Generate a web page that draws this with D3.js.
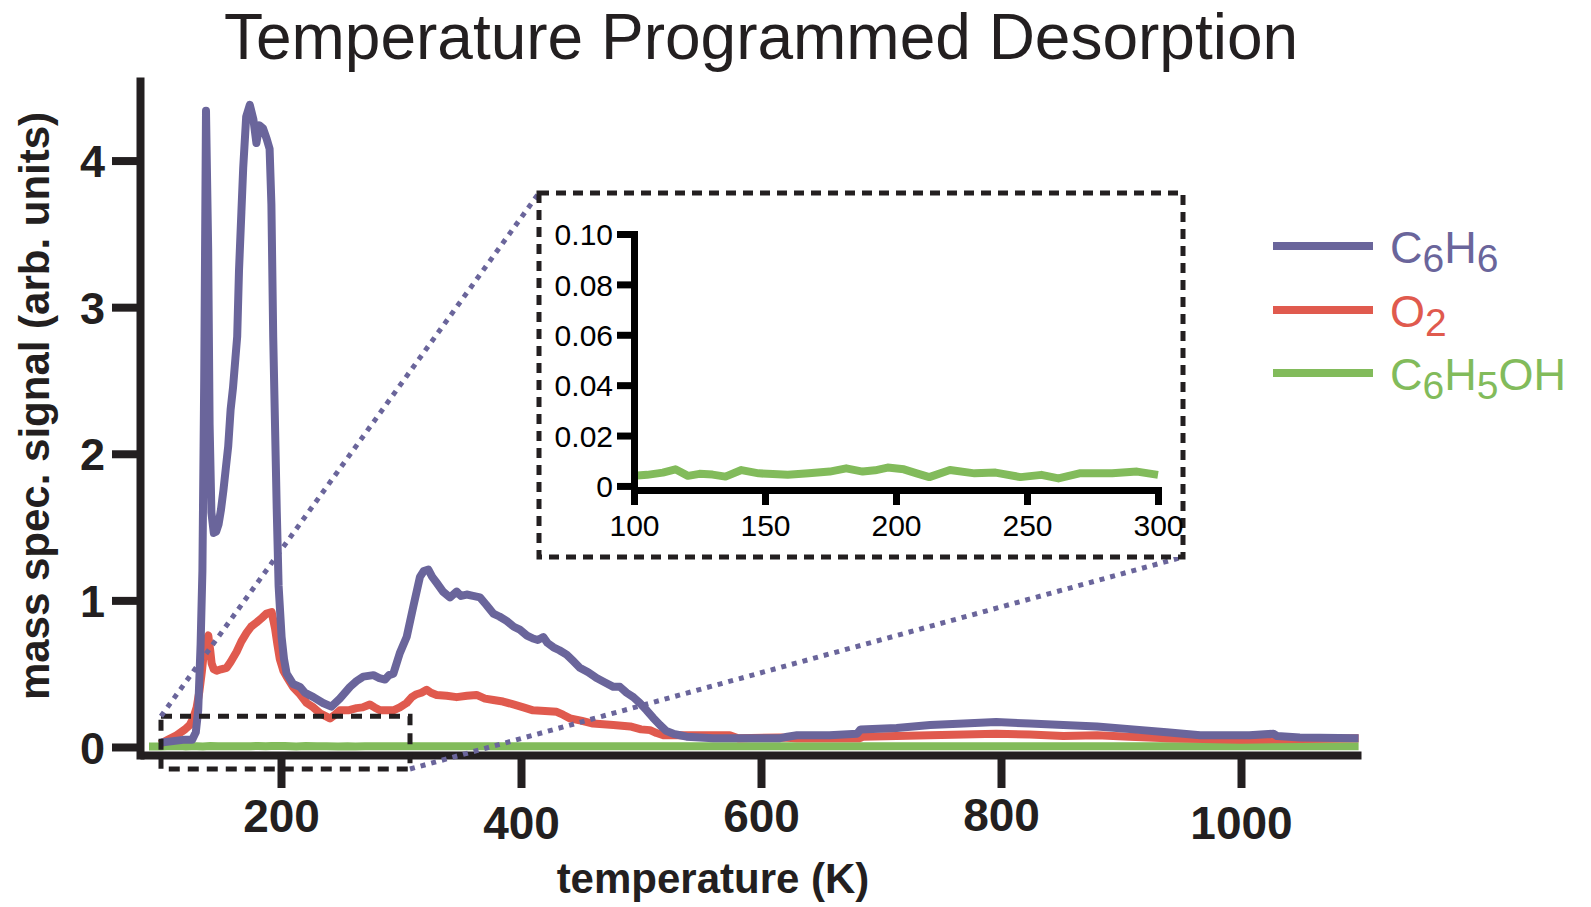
<!DOCTYPE html>
<html><head><meta charset="utf-8">
<script src="https://cdn.jsdelivr.net/npm/d3@7"></script>
<style>
body{margin:0;background:#fff}
svg{display:block}
text{font-family:"Liberation Sans",Arial,Helvetica,sans-serif}
</style>
</head><body>
<svg id="c" width="1591" height="907"></svg>
<script>
// ---------------- data ----------------
const benzeneT = [100,110,120,126,129,131,133,134.5,136,137.5,139.3,140.5,142,144,146,148,150,152,154,156,158,160,162,163.5,165,167,168.5,171,174,177,179.5,182,185,188,190.5,192,193.5,195,196.5,198,200.5,202.5,204.7,210,215.8,220,227,235,242,249,257.5,263,268.6,277,282,286.7,290,293.6,299,304.7,310.3,315.8,319,322.8,326,329.7,335,340.8,346.4,350,354.7,360,365.8,371,376.9,382,388,394,399,405,410,414,418.6,422,427,432,438,443,449,456,463,470,477,482.5,488,493.6,499,504.7,510,515.8,521,527,532.5,538,560,588,616,622,630,657,680,683,713,741,769,796,824,852,880,910,938,966,1007,1027,1030,1049,1098];
const benzeneSignal = [0.03,0.04,0.05,0.05,0.1,0.25,0.7,1.2,2.5,4.34,3.4,2.2,1.6,1.46,1.47,1.52,1.62,1.75,1.9,2.05,2.3,2.45,2.65,2.8,3.25,3.65,3.95,4.3,4.38,4.28,4.12,4.24,4.22,4.15,4.08,3.7,2.8,2.2,1.6,1.1,0.75,0.6,0.5,0.43,0.41,0.37,0.34,0.3,0.275,0.33,0.41,0.45,0.48,0.49,0.47,0.46,0.49,0.5,0.64,0.75,0.96,1.16,1.2,1.21,1.16,1.12,1.06,1.02,1.06,1.03,1.04,1.03,1.02,0.97,0.91,0.89,0.86,0.82,0.8,0.76,0.74,0.73,0.75,0.71,0.68,0.66,0.63,0.59,0.54,0.51,0.47,0.44,0.41,0.41,0.37,0.34,0.3,0.25,0.2,0.15,0.11,0.09,0.08,0.07,0.06,0.06,0.06,0.07,0.08,0.08,0.09,0.12,0.13,0.15,0.16,0.17,0.16,0.15,0.14,0.12,0.1,0.08,0.08,0.09,0.075,0.065,0.06];

const oxygenT = [99,106,113,120,124,127,129.7,132,134,136.7,139.4,141,142.2,144,146.4,150,154.7,158,163,167,171.4,175,179.7,184,188,192.2,195,197,199,202,204.7,210,215.8,221.4,227,232.5,240.8,245,249,256,263,268,274,278,282.5,293.6,299,304.7,309,313,317,321.4,325,329.7,338,346.4,355,363,370,377,385,393.6,402,410,420,429.7,435,440.8,450,460,477,491,500,507.5,513,518.6,546,574,581,616,630,682,685,741,769,796,824,852,880,907,938,1000,1050,1098];
const oxygenSignal = [0.02,0.05,0.08,0.12,0.15,0.2,0.27,0.38,0.51,0.72,0.76,0.66,0.57,0.53,0.52,0.53,0.54,0.58,0.65,0.72,0.78,0.82,0.85,0.88,0.91,0.92,0.81,0.7,0.6,0.52,0.48,0.41,0.36,0.3,0.27,0.23,0.195,0.22,0.25,0.25,0.265,0.27,0.29,0.27,0.25,0.25,0.27,0.3,0.34,0.36,0.37,0.39,0.37,0.355,0.35,0.34,0.35,0.355,0.33,0.32,0.31,0.29,0.27,0.25,0.245,0.24,0.22,0.195,0.18,0.16,0.15,0.14,0.12,0.115,0.095,0.08,0.08,0.08,0.06,0.065,0.06,0.06,0.07,0.08,0.085,0.09,0.085,0.075,0.08,0.07,0.06,0.05,0.055,0.06];

const phenolT = [90,100,105,111,115.8,120.6,125,130,134.9,141,147.6,153,158.7,166.7,174.7,181,187.3,192,196.8,203,207.9,212.7,220.6,230,238,247.5,255.5,262,270,282.5,292,300,350,400,500,600,700,800,900,1000,1098];
const phenolSignal = [0.004,0.004,0.0044,0.0053,0.0066,0.004,0.0048,0.0045,0.0037,0.0063,0.005,0.0047,0.0044,0.005,0.0057,0.007,0.0057,0.0062,0.0073,0.0066,0.005,0.0035,0.0063,0.005,0.0053,0.0035,0.0044,0.003,0.005,0.005,0.0057,0.0044,0.005,0.005,0.005,0.005,0.005,0.005,0.005,0.005,0.005];

const mainXTicks = [200,400,600,800,1000];
const mainYTicks = [0,1,2,3,4];
const insetXTicks = [100,150,200,250,300];
const insetYTicks = [0,0.02,0.04,0.06,0.08,0.10];
const seriesNames = [["C","6","H","6"],["O","2"],["C","6","H","5","OH"]];

// ---------------- drawing ----------------
const svg = d3.select('#c');
const ink = '#231f20';
const FONT = '"Liberation Sans", Arial, Helvetica, sans-serif';
const cBenz = '#6a659b', cOxy = '#e05a4e', cPhen = '#82bb5b';
const LW = 8;

svg.append('rect').attr('width',1591).attr('height',907).attr('fill','#fff');

const x = d3.scaleLinear().domain([82.5,1100]).range([140,1361]);
const y = d3.scaleLinear().domain([-0.082,4.57]).range([759,77]);

const zip = (a,b) => a.map((t,i)=>[t,b[i]]);
const line = d3.line().x(d=>x(d[0])).y(d=>y(d[1]));

svg.append('path').datum(zip(phenolT,phenolSignal)).attr('d',line)
  .attr('fill','none').attr('stroke',cPhen).attr('stroke-width',LW);
svg.append('path').datum(zip(oxygenT,oxygenSignal)).attr('d',line)
  .attr('fill','none').attr('stroke',cOxy).attr('stroke-width',LW).attr('stroke-linejoin','round');
svg.append('path').datum(zip(benzeneT,benzeneSignal)).attr('d',line)
  .attr('fill','none').attr('stroke',cBenz).attr('stroke-width',LW).attr('stroke-linejoin','round');

// axes
const gx = svg.append('g').attr('transform','translate(0,755)')
  .call(d3.axisBottom(x).tickValues(mainXTicks).tickSizeInner(33).tickSizeOuter(0).tickFormat(d3.format('d')));
gx.attr('font-family',FONT).attr('font-size',46).attr('font-weight','bold');
gx.select('.domain').attr('stroke',ink).attr('stroke-width',8);
gx.selectAll('.tick line').attr('stroke',ink).attr('stroke-width',8);
const labelShift = {200:-2,400:5,600:-2,800:-3,1000:5};
gx.selectAll('.tick text').attr('fill',ink).attr('dy',0).attr('y',d=>79+(labelShift[d]||0));

const gy = svg.append('g').attr('transform','translate(140,0)')
  .call(d3.axisLeft(y).tickValues(mainYTicks).tickSizeInner(28).tickPadding(7).tickSizeOuter(0).tickFormat(d3.format('d')));
gy.attr('font-family',FONT).attr('font-size',45).attr('font-weight','bold');
gy.select('.domain').attr('stroke',ink).attr('stroke-width',8);
gy.selectAll('.tick line').attr('stroke',ink).attr('stroke-width',8);
gy.selectAll('.tick text').attr('fill',ink).attr('dy','0.36em');

// titles
svg.append('text').attr('x',761).attr('y',59).attr('text-anchor','middle')
  .attr('font-size',64).attr('fill',ink).text('Temperature Programmed Desorption');
svg.append('text').attr('x',713).attr('y',893).attr('text-anchor','middle')
  .attr('font-size',42).attr('font-weight','bold').attr('fill',ink).text('temperature (K)');
svg.append('text').attr('transform','translate(49,406) rotate(-90)').attr('text-anchor','middle')
  .attr('font-size',42).attr('font-weight','bold').attr('fill',ink).text('mass spec. signal (arb. units)');

// zoom window indicator
const zx0 = x(100), zx1 = x(307.5), zy0 = y(0.21), zy1 = y(-0.15);
svg.append('rect').attr('x',zx0).attr('y',zy0).attr('width',zx1-zx0).attr('height',zy1-zy0)
  .attr('fill','none').attr('stroke',ink).attr('stroke-width',5).attr('stroke-dasharray','11,8');

// inset box
const box = {x:539, y:193, w:644, h:364};
svg.append('line').attr('x1',zx0).attr('y1',zy0).attr('x2',box.x).attr('y2',box.y)
  .attr('stroke',cBenz).attr('stroke-width',5).attr('stroke-dasharray','5,6');
svg.append('line').attr('x1',zx1).attr('y1',zy1).attr('x2',box.x+box.w).attr('y2',box.y+box.h)
  .attr('stroke',cBenz).attr('stroke-width',5).attr('stroke-dasharray','5,6');
svg.append('rect').attr('x',box.x).attr('y',box.y).attr('width',box.w).attr('height',box.h)
  .attr('fill','#fff').attr('stroke',ink).attr('stroke-width',5).attr('stroke-dasharray','10,7');

const xi = d3.scaleLinear().domain([100,300]).range([634,1158]);
const yi = d3.scaleLinear().domain([-0.0032,0.1]).range([494,234]);
const lineI = d3.line().x(d=>xi(d[0])).y(d=>yi(d[1]));
svg.append('path').datum(zip(phenolT,phenolSignal).filter(d=>d[0]>=100&&d[0]<=300)).attr('d',lineI)
  .attr('fill','none').attr('stroke',cPhen).attr('stroke-width',LW).attr('stroke-linejoin','round');

const gxi = svg.append('g').attr('transform','translate(0,490)')
  .call(d3.axisBottom(xi).tickValues(insetXTicks).tickSizeInner(15).tickPadding(4).tickSizeOuter(0).tickFormat(d3.format('d')));
gxi.attr('font-family',FONT).attr('font-size',30);
gxi.select('.domain').attr('stroke','#000').attr('stroke-width',7).attr('stroke-linecap','square');
gxi.selectAll('.tick line').attr('stroke','#000').attr('stroke-width',7);
gxi.selectAll('.tick text').attr('fill','#000').attr('dy',0).attr('y',46);

const gyi = svg.append('g').attr('transform','translate(634,0)')
  .call(d3.axisLeft(yi).tickValues(insetYTicks).tickSizeInner(17).tickPadding(4).tickSizeOuter(0)
    .tickFormat(d=>d===0?'0':d3.format('.2f')(d)));
gyi.attr('font-family',FONT).attr('font-size',30);
gyi.select('.domain').attr('stroke','#000').attr('stroke-width',7).attr('stroke-linecap','square');
gyi.selectAll('.tick line').attr('stroke','#000').attr('stroke-width',7);
gyi.selectAll('.tick text').attr('fill','#000').attr('dy','0.36em');

// legend
const legColors = [cBenz,cOxy,cPhen];
const legY = [246,310,373];
seriesNames.forEach((parts,i)=>{
  svg.append('line').attr('x1',1273).attr('x2',1373).attr('y1',legY[i]).attr('y2',legY[i])
    .attr('stroke',legColors[i]).attr('stroke-width',8);
  const t = svg.append('text').attr('x',1390).attr('y',legY[i]+17).attr('font-size',45).attr('fill',legColors[i]);
  let sub = false;
  parts.forEach(p=>{
    const isSub = /^\d+$/.test(p);
    const ts = t.append('tspan').text(p);
    if (isSub && !sub) { ts.attr('dy',9).attr('font-size',39); sub = true; }
    else if (isSub) { ts.attr('font-size',39); }
    else if (sub) { ts.attr('dy',-9); sub = false; }
  });
});
</script>
</body></html>
